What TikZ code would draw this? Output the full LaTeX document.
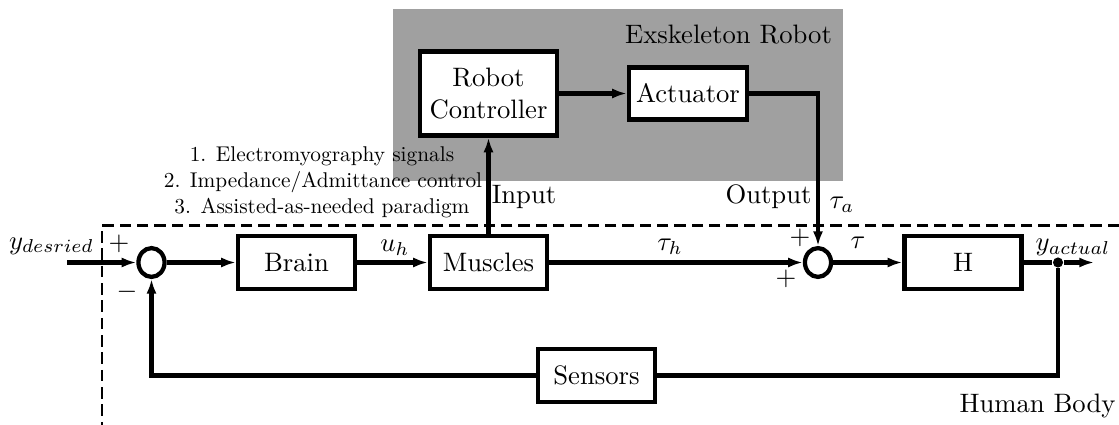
\documentclass[tikz,border=0pt]{standalone}
\usetikzlibrary{arrows.meta,shapes.geometric}
\definecolor{robotgray}{RGB}{160,160,160}
\begin{document}
\begin{tikzpicture}[x=0.375pt,y=-0.375pt,
  blk/.style={draw,line width=1.6pt,fill=white,inner sep=0pt,
    minimum width=43.9pt,minimum height=19.9pt,align=center},
  sumj/.style={draw,ellipse,line width=1.6pt,fill=white,inner sep=0pt,
    minimum width=9.8pt,minimum height=10.8pt},
  wire/.style={line width=1.6pt},
  sig/.style={wire,-{Latex[length=5.5pt,width=3.8pt]}},
  border/.style={line width=0.85pt,dash pattern=on 4.3pt off 2.2pt},
  lbl/.style={anchor=base,inner sep=0pt},
  note/.style={lbl,scale=0.8}]
\useasboundingbox (0,0) rectangle (1119,425);

% exoskeleton region
\fill[robotgray] (393,9) rectangle (843,181);
\node[lbl] (exo) at (728.5,43) {Exskeleton Robot};

% human body boundary
\draw[border] (1119,225.5) -| (102,425);
\node[lbl,anchor=base east] (body) at (1116,412) {Human Body};

% blocks
\node[blk] (brain) at (296.5,262.5) {Brain};
\node[blk] (mus) at (488.5,262.5) {Muscles};
\node[blk] (H) at (963,262.5) {H};
\node[blk] (sens) at (596.5,375.5) {Sensors};
\node[blk,minimum width=51.4pt,minimum height=31.5pt] (rc) at (488.5,93.5) {Robot\\Controller};
\node[blk,minimum width=44.3pt,minimum height=19.5pt] (act) at (688,93.5) {Actuator};

% summing junctions
\node[sumj] (s1) at (151.5,262.5) {};
\node[sumj] (s2) at (818,262.5) {};
\node[circle,fill,inner sep=0pt,minimum size=3.8pt] (dot) at (1058,262.5) {};

\coordinate (in) at (67,262.5);
\coordinate (out) at (1094,262.5);

% forward path
\draw[sig] (in) -- (s1);
\draw[sig] (s1) -- (brain);
\draw[sig] (brain) -- (mus);
\draw[sig] (mus) -- (s2);
\draw[sig] (s2) -- (H);
\draw[wire] (H) -- (dot);
\draw[sig] (dot) -- (out);

% robot path
\draw[sig] (mus.north) -- (rc.south);
\draw[sig] (rc) -- (act);
\draw[sig] (act.east) -| (s2.north);

% feedback path
\draw[wire] (dot) |- (sens.east);
\draw[sig] (sens.west) -| (s1.south);

% signal labels
\node[lbl] (yd) at (51.5,249) {$y_{desried}$};
\node[lbl] (p1) at (119,250) {$+$};
\node[lbl] (m1) at (127,298) {$-$};
\node[lbl] (uh) at (395,251) {$u_h$};
\node[lbl] (th) at (670,250) {$\tau_h$};
\node[lbl] (p2) at (800,244) {$+$};
\node[lbl] (p3) at (786,285) {$+$};
\node[lbl] (tau) at (858,248) {$\tau$};
\node[lbl] (ya) at (1073,250) {$y_{actual}$};
\node[lbl] (inp) at (524,203) {Input};
\node[lbl] (outp) at (768.5,203) {Output};
\node[lbl] (ta) at (842,208) {$\tau_a$};

% control strategies
\node[note] (l1) at (322,161) {1. Electromyography signals};
\node[note] (l2) at (323,187) {2. Impedance/Admittance control};
\node[note] (l3) at (322,213) {3. Assisted-as-needed paradigm};
\end{tikzpicture}
\end{document}
